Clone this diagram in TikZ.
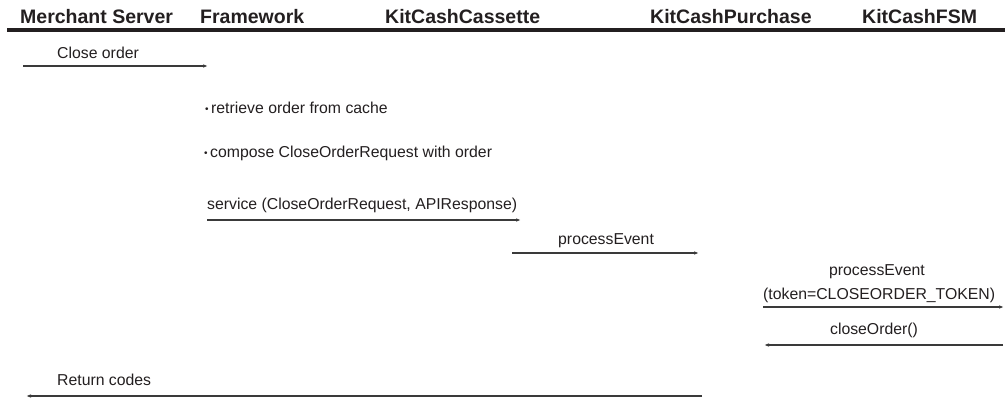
\documentclass[tikz,border=0pt]{standalone}
\usepackage{fontspec}
\setmainfont{Liberation Sans}
\usetikzlibrary{arrows.meta}
\definecolor{ink}{HTML}{231F20}
\definecolor{arr}{HTML}{3A3A3A}
\tikzset{
  hdr/.style={anchor=base west, inner sep=0pt, text=ink, font=\fontsize{19.5}{22}\selectfont\bfseries},
  lbl/.style={anchor=base west, inner sep=0pt, text=ink, font=\fontsize{15.8}{19}\selectfont},
  lblc/.style={lbl, anchor=base},
  msg/.style={draw=arr, line width=1.1pt, -{Latex[length=5pt,width=3.6pt]}},
}
\newcommand{\bul}{{\fontsize{10}{10}\selectfont\raisebox{0.9pt}{•}}\hspace{2.5pt}}
\begin{document}
\begin{tikzpicture}[x=1pt,y=-1pt]
\useasboundingbox (0,0) rectangle (1005,399);
% header
\node[hdr] (h1) at (20,23) {Merchant Server};
\node[hdr] (h2) at (200,23) {Framework};
\node[hdr] (h3) at (385,23) {KitCashCassette};
\node[hdr] (h4) at (650,23) {KitCashPurchase};
\node[hdr] (h5) at (862,23) {KitCashFSM};
\coordinate (rl) at (7,30);
\coordinate (rr) at (1005,30);
\draw[ink, line width=3.8pt] (rl) -- (rr);
% close order
\node[lbl] (t1) at (57,58) {Close order};
\coordinate (a1s) at (23,66);
\coordinate (a1e) at (208,66);
\draw[msg] (a1s) -- (a1e);
% bullets
\node[lbl] (b1) at (205,113) {\bul retrieve order from cache};
\node[lbl] (b2) at (204,157) {\bul compose CloseOrderRequest with order};
% service
\node[lbl] (t2) at (207,209) {service (CloseOrderRequest, APIResponse)};
\coordinate (a2s) at (207,220);
\coordinate (a2e) at (521,220);
\draw[msg] (a2s) -- (a2e);
% processEvent
\node[lbl] (t3) at (558,244) {processEvent};
\coordinate (a3s) at (512,253);
\coordinate (a3e) at (699,253);
\draw[msg] (a3s) -- (a3e);
% processEvent token
\node[lblc] (t4) at (877,275) {processEvent};
\node[lbl] (t5) at (763,299) {(token=CLOSEORDER\_TOKEN)};
\coordinate (a4s) at (763,307);
\coordinate (a4e) at (1004,307);
\draw[msg] (a4s) -- (a4e);
% closeOrder
\node[lblc] (t6) at (874,334) {closeOrder()};
\coordinate (a5s) at (1003,345);
\coordinate (a5e) at (764,345);
\draw[msg] (a5s) -- (a5e);
% return codes
\node[lbl] (t7) at (57,385) {Return codes};
\coordinate (a6s) at (702,396);
\coordinate (a6e) at (26,396);
\draw[msg] (a6s) -- (a6e);
\end{tikzpicture}
\end{document}
